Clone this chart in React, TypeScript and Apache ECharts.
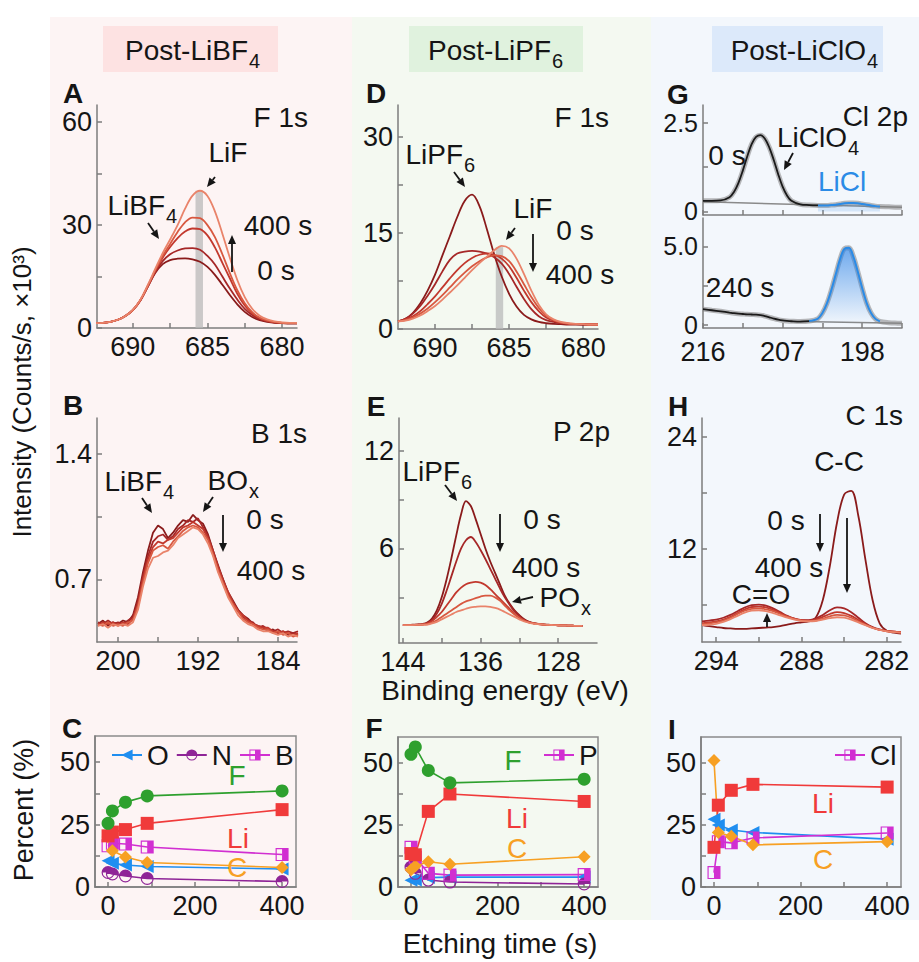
import React, { useEffect, useRef } from 'react';
import * as echarts from 'echarts';

const FONT = '"Liberation Sans", Arial, Helvetica, sans-serif';
const AXIS = '#7d7d7d';
const INK = '#151515';
const SHADES = ['#8a1b1b', '#a62727', '#c2382d', '#d85840', '#e9836a'];

// ---------- Panel A: F 1s, post-LiBF4 (x10^3 counts/s) ----------
const A_E = [692.5, 692, 691.5, 691, 690.5, 690, 689.5, 689, 688.5, 688, 687.5, 687, 686.5, 686, 685.5, 685, 684.5, 684, 683.5, 683, 682.5, 682, 681.5, 681, 680.5, 680, 679.5, 679];
const A_0s = [1.4, 1.5, 1.8, 2.4, 3.5, 5.2, 8, 12, 16, 18.6, 19.8, 20.2, 20.3, 20.0, 19.3, 17.8, 15.5, 12.6, 9.6, 6.9, 4.7, 3.2, 2.3, 1.8, 1.5, 1.4, 1.3, 1.3];
const A_1 = [1.4, 1.5, 1.8, 2.4, 3.5, 5.2, 8, 12.1, 16.3, 19.5, 21.5, 22.6, 23.2, 23.3, 22.8, 21.0, 18.5, 15.0, 11.5, 8.3, 5.6, 3.8, 2.6, 2.0, 1.6, 1.5, 1.4, 1.4];
const A_2 = [1.4, 1.5, 1.8, 2.4, 3.5, 5.2, 8, 12.2, 16.6, 20.5, 23.6, 26.2, 28.1, 29.0, 28.8, 27.0, 23.5, 19.0, 14.5, 10.0, 6.6, 4.3, 2.9, 2.1, 1.7, 1.5, 1.4, 1.4];
const A_3 = [1.4, 1.5, 1.8, 2.4, 3.5, 5.2, 8.1, 12.3, 16.8, 21.0, 24.5, 28.0, 30.8, 32.2, 32.0, 30.0, 26.5, 21.5, 16.0, 11.0, 7.2, 4.6, 3.0, 2.2, 1.7, 1.5, 1.4, 1.4];
const A_400s = [1.4, 1.5, 1.8, 2.4, 3.5, 5.3, 8.2, 12.5, 17.2, 21.8, 25.8, 30.0, 34.8, 38.6, 40.0, 38.5, 34.0, 27.5, 20.5, 14.0, 9.0, 5.6, 3.6, 2.5, 1.9, 1.6, 1.5, 1.5];
const A_LIF_BAR = [685.3, 685.8, 40];

// ---------- Panel D: F 1s, post-LiPF6 ----------
const D_E = A_E;
const D_0s = [1.2, 1.6, 2.5, 4.0, 6.0, 8.5, 11.5, 14.5, 17.5, 20.0, 21.0, 19.2, 15.6, 11.6, 8.2, 5.5, 3.5, 2.2, 1.5, 1.1, 0.9, 0.8, 0.75, 0.7, 0.7, 0.7, 0.7, 0.7];
const D_1 = [1.2, 1.6, 2.4, 3.6, 5.2, 7.0, 9.0, 10.8, 11.8, 12.1, 12.2, 12.1, 11.8, 11.2, 10.2, 8.6, 6.6, 4.7, 3.1, 2.0, 1.4, 1.1, 0.9, 0.8, 0.75, 0.7, 0.7, 0.7];
const D_2 = [1.2, 1.5, 2.0, 2.8, 3.9, 5.1, 6.5, 7.9, 9.2, 10.3, 11.1, 11.6, 11.8, 11.6, 11.0, 9.8, 8.0, 6.0, 4.2, 2.8, 1.8, 1.3, 1.0, 0.85, 0.8, 0.75, 0.7, 0.7];
const D_3 = [1.2, 1.4, 1.8, 2.4, 3.2, 4.2, 5.3, 6.5, 7.7, 8.8, 9.8, 10.6, 11.2, 11.5, 11.4, 10.6, 9.0, 7.0, 5.0, 3.3, 2.1, 1.4, 1.0, 0.85, 0.8, 0.75, 0.7, 0.7];
const D_400s = [1.2, 1.3, 1.6, 2.1, 2.8, 3.6, 4.6, 5.7, 6.8, 8.0, 9.2, 10.3, 11.3, 12.3, 13.0, 12.6, 11.0, 8.6, 6.0, 3.8, 2.3, 1.5, 1.1, 0.9, 0.8, 0.75, 0.7, 0.7];
const D_LIF_BAR = [685.4, 685.9, 12.8];

// ---------- Panel G: Cl 2p, post-LiClO4 ----------
const G_E = [216, 215, 214, 213, 212.5, 212, 211.5, 211, 210.5, 210, 209.5, 209, 208.5, 208, 207.5, 207, 206.5, 206, 205, 204, 203, 202.5, 202, 201.5, 201, 200.5, 200, 199.5, 199, 198.5, 198, 197.5, 197, 196.5, 196, 195, 194, 193.5];
const G_0s = [0.30, 0.30, 0.31, 0.40, 0.55, 0.80, 1.15, 1.55, 1.90, 2.10, 2.15, 2.05, 1.80, 1.45, 1.05, 0.70, 0.45, 0.30, 0.20, 0.18, 0.17, 0.17, 0.17, 0.18, 0.19, 0.21, 0.23, 0.24, 0.24, 0.23, 0.21, 0.19, 0.17, 0.15, 0.14, 0.13, 0.12, 0.12];
const G_240s = [1.00, 0.93, 0.86, 0.78, 0.74, 0.71, 0.69, 0.67, 0.66, 0.65, 0.62, 0.56, 0.48, 0.40, 0.33, 0.28, 0.25, 0.23, 0.21, 0.24, 0.40, 0.75, 1.35, 2.20, 3.20, 4.20, 4.85, 4.90, 4.35, 3.40, 2.35, 1.40, 0.75, 0.38, 0.22, 0.14, 0.11, 0.10];
const G_0s_BG_E = [216, 193.5];
const G_0s_BG = [0.27, 0.12];
const G_240s_BG_E = [205, 193.5];
const G_240s_BG = [0.21, 0.10];

// ---------- Panel B: B 1s, post-LiBF4 ----------
const B_E = [202, 201.5, 201, 200.5, 200, 199.5, 199, 198.5, 198, 197.5, 197, 196.5, 196, 195.5, 195, 194.5, 194, 193.5, 193, 192.5, 192, 191.5, 191, 190.5, 190, 189.5, 189, 188.5, 188, 187.5, 187, 186.5, 186, 185.5, 185, 184.5, 184, 183.5, 183, 182.5, 182];
const B_0s = [0.45, 0.47, 0.44, 0.46, 0.45, 0.47, 0.46, 0.50, 0.60, 0.74, 0.86, 0.96, 1.00, 0.98, 0.93, 0.96, 1.00, 1.03, 1.02, 1.06, 1.03, 1.01, 0.95, 0.86, 0.78, 0.70, 0.63, 0.58, 0.53, 0.50, 0.48, 0.45, 0.44, 0.43, 0.41, 0.42, 0.40, 0.41, 0.39, 0.40, 0.39];
const B_1 = [0.46, 0.45, 0.47, 0.45, 0.46, 0.45, 0.47, 0.49, 0.58, 0.72, 0.83, 0.91, 0.94, 0.95, 0.92, 0.94, 0.98, 1.00, 1.03, 1.02, 1.04, 0.99, 0.94, 0.86, 0.77, 0.70, 0.62, 0.57, 0.53, 0.49, 0.47, 0.46, 0.43, 0.44, 0.42, 0.41, 0.42, 0.40, 0.41, 0.40, 0.41];
const B_2 = [0.44, 0.46, 0.45, 0.46, 0.44, 0.46, 0.45, 0.48, 0.56, 0.70, 0.81, 0.88, 0.91, 0.90, 0.92, 0.93, 0.96, 0.99, 1.00, 1.02, 1.00, 0.98, 0.93, 0.85, 0.77, 0.69, 0.63, 0.57, 0.52, 0.50, 0.47, 0.45, 0.44, 0.43, 0.43, 0.41, 0.40, 0.41, 0.40, 0.39, 0.40];
const B_3 = [0.45, 0.44, 0.46, 0.44, 0.45, 0.44, 0.46, 0.47, 0.55, 0.68, 0.79, 0.86, 0.88, 0.89, 0.87, 0.91, 0.94, 0.97, 0.99, 1.00, 0.99, 0.96, 0.92, 0.84, 0.75, 0.68, 0.61, 0.56, 0.52, 0.48, 0.46, 0.45, 0.43, 0.42, 0.42, 0.40, 0.41, 0.39, 0.40, 0.38, 0.39];
const B_400s = [0.44, 0.45, 0.43, 0.45, 0.44, 0.45, 0.44, 0.46, 0.53, 0.66, 0.76, 0.82, 0.83, 0.85, 0.86, 0.89, 0.93, 0.95, 0.97, 0.99, 0.98, 0.95, 0.90, 0.83, 0.74, 0.67, 0.60, 0.55, 0.50, 0.47, 0.45, 0.44, 0.42, 0.41, 0.41, 0.40, 0.39, 0.40, 0.38, 0.39, 0.38];

// ---------- Panel E: P 2p, post-LiPF6 ----------
const E_E = [144, 143.5, 143, 142.5, 142, 141.5, 141, 140.5, 140, 139.5, 139, 138.5, 138, 137.5, 137, 136.5, 136, 135.5, 135, 134.5, 134, 133.5, 133, 132.5, 132, 131.5, 131, 130.5, 130, 129.5, 129, 128.5, 128, 127.5, 127, 126.5, 126, 125.5];
const E_0s = [1.30, 1.30, 1.32, 1.33, 1.36, 1.45, 1.70, 2.20, 3.00, 4.10, 5.40, 6.80, 8.10, 8.90, 8.60, 7.80, 6.90, 6.00, 5.20, 4.50, 3.80, 3.10, 2.60, 2.20, 1.90, 1.65, 1.50, 1.42, 1.37, 1.34, 1.32, 1.30, 1.29, 1.28, 1.27, 1.26, 1.25, 1.25];
const E_1 = [1.30, 1.30, 1.31, 1.32, 1.34, 1.40, 1.60, 2.00, 2.60, 3.40, 4.30, 5.20, 6.00, 6.50, 6.70, 6.40, 5.90, 5.35, 4.75, 4.15, 3.55, 3.00, 2.55, 2.15, 1.85, 1.62, 1.48, 1.40, 1.36, 1.33, 1.31, 1.30, 1.29, 1.28, 1.27, 1.26, 1.25, 1.25];
const E_2 = [1.30, 1.30, 1.31, 1.32, 1.34, 1.40, 1.55, 1.80, 2.10, 2.50, 2.90, 3.30, 3.60, 3.80, 3.90, 3.95, 3.90, 3.75, 3.50, 3.20, 2.90, 2.60, 2.30, 2.00, 1.75, 1.58, 1.47, 1.40, 1.36, 1.33, 1.31, 1.30, 1.29, 1.28, 1.27, 1.26, 1.25, 1.25];
const E_3 = [1.30, 1.30, 1.30, 1.31, 1.32, 1.35, 1.45, 1.60, 1.80, 2.00, 2.20, 2.40, 2.60, 2.75, 2.85, 2.95, 3.05, 3.10, 3.10, 3.00, 2.80, 2.50, 2.20, 1.95, 1.75, 1.58, 1.47, 1.40, 1.36, 1.33, 1.31, 1.30, 1.29, 1.28, 1.27, 1.26, 1.25, 1.25];
const E_400s = [1.30, 1.30, 1.30, 1.31, 1.32, 1.33, 1.40, 1.50, 1.65, 1.80, 1.95, 2.10, 2.20, 2.30, 2.38, 2.42, 2.45, 2.45, 2.42, 2.35, 2.25, 2.10, 1.95, 1.80, 1.65, 1.52, 1.44, 1.38, 1.35, 1.33, 1.31, 1.30, 1.29, 1.28, 1.27, 1.26, 1.25, 1.25];

// ---------- Panel H: C 1s, post-LiClO4 ----------
const H_E = [295, 294.5, 294, 293.5, 293, 292.5, 292, 291.5, 291, 290.5, 290, 289.5, 289, 288.5, 288, 287.5, 287, 286.5, 286, 285.5, 285, 284.5, 284, 283.5, 283, 282.5, 282, 281.5, 281];
const H_0s = [3.8, 3.7, 3.6, 3.5, 3.45, 3.4, 3.4, 3.45, 3.5, 3.55, 3.6, 3.7, 3.85, 4.0, 4.1, 4.2, 4.6, 6.5, 10.2, 14.8, 17.8, 18.2, 15.5, 10.8, 6.5, 4.0, 3.2, 3.0, 2.9];
const H_1 = [4.2, 4.3, 4.4, 4.6, 4.9, 5.3, 5.7, 5.95, 6.0, 5.9, 5.6, 5.2, 4.8, 4.5, 4.35, 4.35, 4.5, 4.9, 5.4, 5.7, 5.6, 5.2, 4.6, 4.0, 3.6, 3.35, 3.2, 3.1, 3.05];
const H_2 = [4.0, 4.1, 4.2, 4.4, 4.7, 5.1, 5.5, 5.75, 5.8, 5.7, 5.45, 5.1, 4.75, 4.5, 4.35, 4.3, 4.4, 4.7, 5.0, 5.2, 5.1, 4.8, 4.35, 3.9, 3.55, 3.3, 3.2, 3.1, 3.05];
const H_3 = [3.9, 4.0, 4.1, 4.3, 4.6, 5.0, 5.35, 5.55, 5.6, 5.5, 5.3, 5.0, 4.7, 4.45, 4.3, 4.25, 4.3, 4.5, 4.75, 4.9, 4.85, 4.6, 4.2, 3.85, 3.5, 3.3, 3.15, 3.1, 3.0];
const H_400s = [3.8, 3.85, 3.95, 4.15, 4.45, 4.8, 5.15, 5.35, 5.4, 5.3, 5.1, 4.85, 4.6, 4.4, 4.25, 4.2, 4.25, 4.4, 4.55, 4.65, 4.6, 4.4, 4.1, 3.8, 3.5, 3.3, 3.15, 3.05, 3.0];

// ---------- Panels C, F, I: atomic percent vs etching time ----------
const T = [0, 10, 40, 90, 400];
const C_F = [25.5, 30.5, 34, 36.5, 38.5];
const C_Li = [20.5, 22, 23, 25.5, 31];
const C_B = [16.5, 17.5, 17.2, 16, 13];
const C_C = [20, 14.5, 12, 9.8, 7.8];
const C_O = [10.5, 9.5, 8.8, 8.2, 7.2];
const C_N = [5.8, 5.2, 4.4, 3.4, 2.2];

const F_F = [53.5, 56.5, 47, 42, 43.5];
const F_Li = [13.5, 13, 30.5, 37.5, 34.5];
const F_P = [16, 12, 5.5, 4.8, 5.0];
const F_C = [7, 8.5, 10.2, 9.2, 12.2];
const F_O = [2.7, 2.8, 3.8, 4, 4];
const F_N = [8, 5.5, 2.8, 2.0, 1.2];

const I_C = [51, 22, 20.5, 17, 18.3];
const I_Li = [16, 33, 39, 41.4, 40.3];
const I_O = [27.3, 25, 23, 22, 19.3];
const I_Cl = [5.8, 18.3, 17.8, 19.8, 21.8];

// ---------- styling ----------
const COL = { F: '#2ea02e', Li: '#f03a3a', C: '#f7a023', O: '#1f8ef0', N: '#8f2497', X: '#d12fd1' };
const HALF_CIRCLE = 'path://M0,10A10,10,0,1,1,20,10A10,10,0,1,1,0,10ZM1.8,10A8.2,8.2,0,1,0,18.2,10A8.2,8.2,0,1,0,1.8,10ZM1.8,10A8.2,8.2,0,0,1,18.2,10Z';
const HALF_SQUARE = 'path://M0,0L20,0L20,20L0,20ZM1.8,1.8L1.8,18.2L18.2,18.2L18.2,1.8ZM10,1.8L18.2,1.8L18.2,18.2L10,18.2Z';

const GRID_POS = [
  [97, 105, 200, 223], // A
  [398, 105, 200, 224], // D
  [703, 105, 199, 110], // G top
  [703, 218, 199, 110], // G bottom
  [97, 418, 200, 224], // B
  [399, 418, 198, 225], // E
  [702, 418, 199, 224], // H
  [95, 736, 201, 151], // C
  [398, 737, 200, 150], // F
  [701, 737, 200, 150], // I
];

const zip = (xs: number[], ys: number[]) => xs.map((x, i) => [x, ys[i]]);

function ax(gi: number, isX: boolean, min: number, max: number, labels: number[], ticks: number[], opts: any = {}) {
  return {
    type: 'value',
    gridIndex: gi,
    min,
    max,
    inverse: !!opts.inverse,
    position: isX ? 'bottom' : 'left',
    axisLine: { show: true, onZero: false, lineStyle: { color: AXIS, width: 1.5 } },
    axisTick: { show: true, inside: true, length: 5, customValues: ticks, lineStyle: { color: AXIS, width: 1.5 } },
    axisLabel: {
      show: opts.showLabels !== false,
      customValues: labels,
      color: INK,
      fontSize: opts.fontSize ?? 27,
      fontFamily: FONT,
      margin: opts.margin ?? 5,
      padding: opts.padding,
      formatter: opts.fmt || ((v: number) => String(v)),
    },
    splitLine: { show: false },
  };
}

function spec(gi: number, E: number[], curves: number[][], smooth: number | boolean = 0.35) {
  return curves.map((vals, k) => ({
    type: 'line',
    name: `s${gi}_${k}`,
    xAxisIndex: gi,
    yAxisIndex: gi,
    data: zip(E, vals),
    symbol: 'none',
    smooth,
    silent: true,
    z: 3,
    lineStyle: { color: SHADES[k], width: 1.8 },
  }));
}

function comp(gi: number, name: string, vals: number[], color: string, symbol: string, extra: any = {}) {
  return {
    type: 'line',
    name,
    xAxisIndex: gi,
    yAxisIndex: gi,
    data: zip(T, vals),
    symbol,
    symbolSize: 13,
    itemStyle: { color },
    lineStyle: { color, width: 1.6 },
    silent: true,
    z: 4,
    ...extra,
  };
}

function bar(gi: number, b: number[]) {
  return {
    type: 'line',
    name: `bar${gi}`,
    xAxisIndex: gi,
    yAxisIndex: gi,
    data: [[(b[0] + b[1]) / 2, 0]],
    symbol: 'none',
    lineStyle: { opacity: 0 },
    z: 1,
    silent: true,
    markArea: {
      silent: true,
      itemStyle: { color: 'rgba(185,185,185,0.75)' },
      data: [[{ xAxis: b[1], yAxis: 0 }, { xAxis: b[0], yAxis: b[2] }]],
    },
  };
}

function txt(x: number, y: number, text: string, o: any = {}) {
  return {
    type: 'text',
    x,
    y,
    rotation: o.rot || 0,
    silent: true,
    z: 100,
    style: {
      text,
      fill: o.color || INK,
      font: `${o.bold ? 'bold ' : ''}${o.size || 28}px ${FONT}`,
      textAlign: o.align || 'center',
      textVerticalAlign: 'middle',
    },
  };
}

function sub(x: number, y: number, main: string, s: string, o: any = {}) {
  const size = o.size || 28;
  return [
    txt(x, y, main, { ...o, align: 'right' }),
    txt(x + 1, y + size * 0.38, s, { ...o, align: 'left', size: Math.round(size * 0.7) }),
  ];
}

function arrow(x1: number, y1: number, x2: number, y2: number) {
  const a = Math.atan2(y2 - y1, x2 - x1);
  const hl = 9, hw = 4;
  const bx = x2 - hl * Math.cos(a), by = y2 - hl * Math.sin(a);
  const px = -Math.sin(a) * hw, py = Math.cos(a) * hw;
  return [
    { type: 'line', silent: true, z: 100, shape: { x1, y1, x2: bx, y2: by }, style: { stroke: INK, lineWidth: 1.8 } },
    { type: 'polygon', silent: true, z: 100, shape: { points: [[x2, y2], [bx + px, by + py], [bx - px, by - py]] }, style: { fill: INK } },
  ];
}

function buildOption() {
  const fmt1 = (v: number) => (v === 0 ? '0' : v.toFixed(1));
  const xAxis = [
    ax(0, true, 679, 692.4, [690, 685, 680], [690, 687.5, 685, 682.5, 680], { inverse: true }),
    ax(1, true, 679, 692.5, [690, 685, 680], [690, 687.5, 685, 682.5, 680], { inverse: true }),
    ax(2, true, 193.5, 216, [216, 207, 198], [216, 211.5, 207, 202.5, 198, 193.5], { inverse: true, showLabels: false }),
    ax(3, true, 193.5, 216, [216, 207, 198], [216, 211.5, 207, 202.5, 198, 193.5], { inverse: true, margin: 10 }),
    ax(4, true, 182.1, 202.1, [200, 192, 184], [200, 196, 192, 188, 184], { inverse: true }),
    ax(5, true, 124, 144.4, [144, 136, 128], [144, 140, 136, 132, 128], { inverse: true }),
    ax(6, true, 281, 295, [294, 288, 282], [294, 291, 288, 285, 282], { inverse: true }),
    ax(7, true, -30, 432, [0, 200, 400], [0, 100, 200, 300, 400]),
    ax(8, true, -30, 432, [0, 200, 400], [0, 100, 200, 300, 400]),
    ax(9, true, -30, 432, [0, 200, 400], [0, 100, 200, 300, 400]),
  ];
  const yAxis = [
    ax(0, false, 0, 65, [0, 30, 60], [0, 15, 30, 45, 60]),
    ax(1, false, 0, 35, [0, 15, 30], [0, 7.5, 15, 22.5, 30]),
    ax(2, false, -0.1, 3.0, [0, 2.5], [0, 1.25, 2.5], { fmt: fmt1, fontSize: 25, padding: [0, 0, 6, 0] }),
    ax(3, false, -0.2, 6.8, [0, 5], [0, 2.5, 5], { fmt: fmt1, fontSize: 25, padding: [0, 0, 6, 0] }),
    ax(4, false, 0.35, 1.6, [0.7, 1.4], [0.7, 1.05, 1.4]),
    ax(5, false, 0.2, 14, [6, 12], [3, 6, 9, 12]),
    ax(6, false, 2, 26, [12, 24], [6, 12, 18, 24]),
    ax(7, false, 0, 60.5, [0, 25, 50], [0, 12.5, 25, 37.5, 50]),
    ax(8, false, 0, 60.5, [0, 25, 50], [0, 12.5, 25, 37.5, 50]),
    ax(9, false, 0, 60.5, [0, 25, 50], [0, 12.5, 25, 37.5, 50]),
  ];

  const gTop = zip(G_E, G_0s);
  const gBot = zip(G_E, G_240s);
  const gSeries: any[] = [
    { gi: 2, d: gTop, black: gTop.filter((p) => p[0] >= 203), blue: gTop.filter((p) => p[0] <= 203.5 && p[0] >= 196), bg: zip(G_0s_BG_E, G_0s_BG), fill: 'rgba(70,150,235,0.25)' },
    { gi: 3, d: gBot, black: gBot.filter((p) => p[0] >= 204), blue: gBot.filter((p) => p[0] <= 204.5 && p[0] >= 196), bg: zip(G_240s_BG_E, G_240s_BG), fill: 'grad' },
  ].flatMap((g) => [
    { type: 'line', xAxisIndex: g.gi, yAxisIndex: g.gi, data: g.bg, symbol: 'none', silent: true, z: 2, lineStyle: { color: '#8a8a8a', width: 1.5 } },
    {
      type: 'line', xAxisIndex: g.gi, yAxisIndex: g.gi, data: g.blue, symbol: 'none', smooth: 0.35, silent: true, z: 3,
      lineStyle: { color: '#2b8be6', width: 2 },
      areaStyle: {
        color: g.fill === 'grad'
          ? new echarts.graphic.LinearGradient(0, 0, 0, 1, [
              { offset: 0, color: 'rgba(43,130,230,0.95)' },
              { offset: 1, color: 'rgba(43,130,230,0.0)' },
            ])
          : g.fill,
      },
    },
    { type: 'line', xAxisIndex: g.gi, yAxisIndex: g.gi, data: g.d, symbol: 'none', smooth: 0.35, silent: true, z: 2, lineStyle: { color: 'rgba(130,130,130,0.55)', width: 5 } },
    { type: 'line', xAxisIndex: g.gi, yAxisIndex: g.gi, data: g.black, symbol: 'none', smooth: 0.35, silent: true, z: 4, lineStyle: { color: '#1a1a1a', width: 1.8 } },
  ]);

  const series: any[] = [
    bar(0, A_LIF_BAR),
    bar(1, D_LIF_BAR),
    ...spec(0, A_E, [A_0s, A_1, A_2, A_3, A_400s]),
    ...spec(1, D_E, [D_0s, D_1, D_2, D_3, D_400s]),
    ...gSeries,
    ...spec(4, B_E, [B_0s, B_1, B_2, B_3, B_400s], false),
    ...spec(5, E_E, [E_0s, E_1, E_2, E_3, E_400s]),
    ...spec(6, H_E, [H_0s, H_1, H_2, H_3, H_400s]),
    comp(7, 'O', C_O, COL.O, 'triangle', { symbolRotate: 90 }),
    comp(7, 'N', C_N, COL.N, HALF_CIRCLE),
    comp(7, 'B', C_B, COL.X, HALF_SQUARE),
    comp(7, 'C', C_C, COL.C, 'diamond'),
    comp(7, 'Li', C_Li, COL.Li, 'rect'),
    comp(7, 'F', C_F, COL.F, 'circle'),
    comp(8, 'O', F_O, COL.O, 'triangle', { symbolRotate: 90 }),
    comp(8, 'N', F_N, COL.N, HALF_CIRCLE),
    comp(8, 'P', F_P, COL.X, HALF_SQUARE),
    comp(8, 'C', F_C, COL.C, 'diamond'),
    comp(8, 'Li', F_Li, COL.Li, 'rect'),
    comp(8, 'F', F_F, COL.F, 'circle'),
    comp(9, 'O', I_O, COL.O, 'triangle', { symbolRotate: 90 }),
    comp(9, 'Cl', I_Cl, COL.X, HALF_SQUARE),
    comp(9, 'C', I_C, COL.C, 'diamond'),
    comp(9, 'Li', I_Li, COL.Li, 'rect'),
  ];

  const legendBase = {
    orient: 'horizontal',
    itemWidth: 30,
    itemHeight: 14,
    itemGap: 7,
    selectedMode: false,
    symbolRotate: 'inherit',
    textStyle: { fontSize: 28, fontFamily: FONT, color: INK },
  };

  const elements: any[] = [
    // header titles
    ...sub(248, 50, 'Post-LiBF', '4'),
    ...sub(551, 50, 'Post-LiPF', '6'),
    ...sub(866, 50, 'Post-LiClO', '4'),
    // axis titles
    txt(22, 392, 'Intensity (Counts/s, ×10³)', { rot: Math.PI / 2, size: 26 }),
    txt(24, 810, 'Percent (%)', { rot: Math.PI / 2, size: 27 }),
    txt(505, 690, 'Binding energy (eV)', { size: 28 }),
    txt(500, 943, 'Etching time (s)', { size: 28 }),
    // panel letters
    txt(73, 93, 'A', { bold: true }),
    txt(376, 93, 'D', { bold: true }),
    txt(678, 94, 'G', { bold: true }),
    txt(73, 405, 'B', { bold: true }),
    txt(376, 406, 'E', { bold: true }),
    txt(678, 406, 'H', { bold: true }),
    txt(72, 728, 'C', { bold: true }),
    txt(374, 728, 'F', { bold: true }),
    txt(672, 729, 'I', { bold: true }),
    // core-level tags
    txt(308, 117, 'F 1s', { align: 'right' }),
    txt(609, 117, 'F 1s', { align: 'right' }),
    txt(908, 116, 'Cl 2p', { align: 'right' }),
    txt(307, 433, 'B 1s', { align: 'right' }),
    txt(610, 431, 'P 2p', { align: 'right' }),
    txt(903, 415, 'C 1s', { align: 'right' }),
    // panel A
    txt(228, 152, 'LiF'),
    ...arrow(215, 177, 207, 187),
    ...sub(165, 205, 'LiBF', '4'),
    ...arrow(148, 223, 159, 239),
    txt(278, 225, '400 s'),
    txt(276, 270, '0 s'),
    ...arrow(232, 272, 232, 235),
    // panel D
    ...sub(463, 154, 'LiPF', '6'),
    ...arrow(454, 172, 465, 187),
    txt(533, 208, 'LiF'),
    ...arrow(515, 228, 506, 240),
    txt(575, 230, '0 s'),
    ...arrow(533, 234, 533, 272),
    txt(580, 274, '400 s'),
    // panel G
    ...sub(847, 137, 'LiClO', '4'),
    txt(727, 155, '0 s'),
    ...arrow(793, 153, 784, 170),
    txt(842, 181, 'LiCl', { color: '#2b8be6' }),
    txt(740, 287, '240 s'),
    // panel B
    ...sub(162, 481, 'LiBF', '4'),
    ...arrow(142, 498, 152, 513),
    ...sub(248, 480, 'BO', 'x'),
    ...arrow(213, 497, 203, 512),
    txt(265, 519, '0 s'),
    ...arrow(223, 515, 223, 552),
    txt(271, 570, '400 s'),
    // panel E
    ...sub(460, 471, 'LiPF', '6'),
    ...arrow(445, 485, 457, 501),
    txt(542, 519, '0 s'),
    ...arrow(500, 514, 500, 552),
    txt(546, 567, '400 s'),
    ...sub(580, 597, 'PO', 'x'),
    ...arrow(533, 597, 512, 602),
    // panel H
    txt(839, 461, 'C-C'),
    txt(786, 520, '0 s'),
    ...arrow(820, 514, 820, 552),
    ...arrow(847, 518, 847, 593),
    txt(789, 567, '400 s'),
    txt(761, 594, 'C=O'),
    ...arrow(767, 627, 767, 613),
    // composition labels
    txt(237, 775, 'F', { color: COL.F }),
    txt(238, 838, 'Li', { color: COL.Li }),
    txt(237, 867, 'C', { color: COL.C }),
    txt(513, 760, 'F', { color: COL.F }),
    txt(517, 818, 'Li', { color: COL.Li }),
    txt(517, 848, 'C', { color: COL.C }),
    txt(823, 803, 'Li', { color: COL.Li }),
    txt(823, 859, 'C', { color: COL.C }),
  ];

  return {
    animation: false,
    backgroundColor: 'transparent',
    textStyle: { fontFamily: FONT },
    grid: GRID_POS.map(([l, t, w, h], i) => ({
      left: l, top: t, width: w, height: h, containLabel: false,
      show: i >= 7, borderColor: '#8a8a8a', borderWidth: 1.5, backgroundColor: 'transparent',
    })),
    xAxis,
    yAxis,
    legend: [
      { ...legendBase, data: ['O', 'N', 'B'], left: 106, top: 736 },
      { ...legendBase, data: ['P'], left: 538, top: 736 },
      { ...legendBase, data: ['Cl'], left: 829, top: 736 },
    ],
    series,
    graphic: { elements },
  };
}

const BG: [number, number, number, number, string][] = [
  [50, 17, 302, 903, '#fdf4f4'],
  [352, 17, 299, 903, '#f4f9f1'],
  [651, 17, 268, 903, '#f3f7fc'],
  [103, 26, 175, 46, '#fde2e2'],
  [409, 26, 174, 46, '#e0f2de'],
  [712, 26, 171, 46, '#dce9fa'],
];

export default function App() {
  const ref = useRef<HTMLDivElement>(null);
  useEffect(() => {
    if (!ref.current) return;
    const chart = echarts.init(ref.current, undefined, { renderer: 'svg' });
    chart.setOption(buildOption() as any);
    return () => chart.dispose();
  }, []);
  return (
    <div style={{ position: 'fixed', left: 0, top: 0, width: 919, height: 962, background: '#ffffff' }}>
      {BG.map((b, i) => (
        <div key={i} style={{ position: 'absolute', left: b[0], top: b[1], width: b[2], height: b[3], background: b[4] }} />
      ))}
      <div ref={ref} style={{ position: 'absolute', left: 0, top: 0, width: 919, height: 962 }} />
    </div>
  );
}
